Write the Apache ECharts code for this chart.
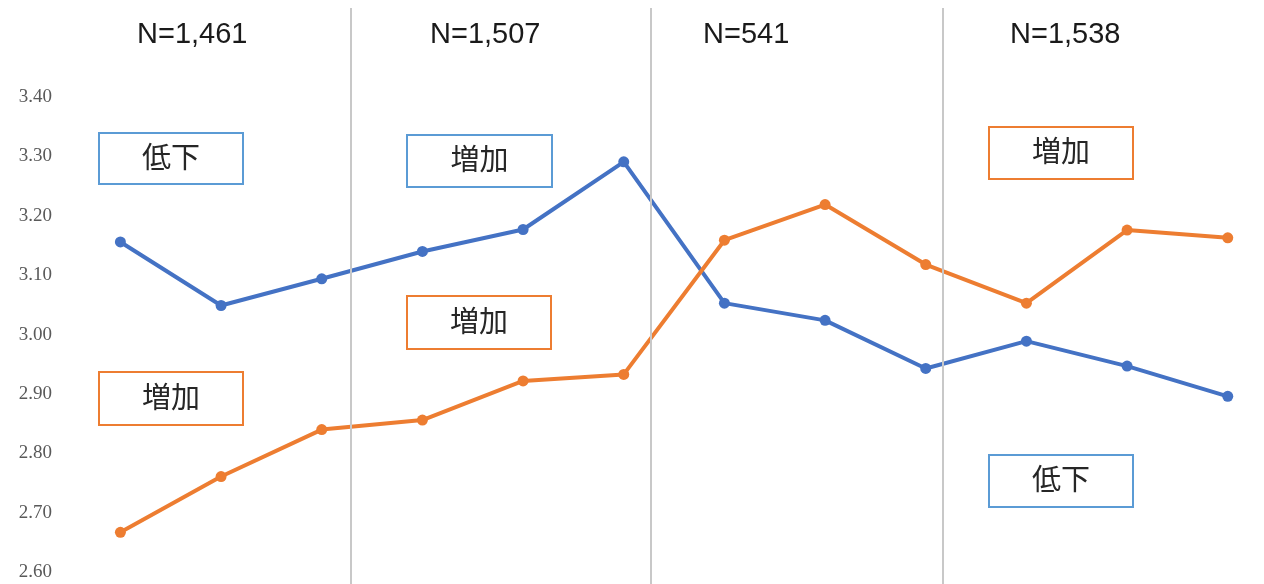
<!DOCTYPE html>
<html>
<head>
<meta charset="utf-8">
<script src="https://cdn.jsdelivr.net/npm/echarts@6/dist/echarts.min.js"></script>
<style>
  html, body { margin: 0; padding: 0; background: #fff; }
  #chart { width: 1264px; height: 584px; }
</style>
</head>
<body>
<div id="chart"></div>
<script>
// data
var points = [0, 1, 2, 3, 4, 5, 6, 7, 8, 9, 10, 11];
var blueValues = [3.156, 3.049, 3.094, 3.140, 3.177, 3.291, 3.053, 3.024, 2.943, 2.989, 2.947, 2.896];
var orangeValues = [2.667, 2.761, 2.840, 2.856, 2.922, 2.933, 3.159, 3.219, 3.118, 3.053, 3.176, 3.163];
var yTicks = [2.6, 2.7, 2.8, 2.9, 3.0, 3.1, 3.2, 3.3, 3.4];
var groupLabels = ['N=1,461', 'N=1,507', 'N=541', 'N=1,538'];
var separators = [2.29, 5.27, 8.17];

var BLUE = '#4472c4';
var ORANGE = '#ed7d31';
var BOX_BLUE = '#5b9bd5';

function pairs(vals) {
    var out = [];
    for (var i = 0; i < vals.length; i++) out.push([points[i], vals[i]]);
    return out;
}

// annotation box
function box(x, y, w, h, color, text) {
    return {
        type: 'group', left: x, top: y,
        children: [
            { type: 'rect', shape: { x: 0, y: 0, width: w, height: h },
              style: { fill: '#fff', stroke: color, lineWidth: 2 } },
            { type: 'text', x: w / 2, y: h / 2 - 2,
              style: { text: text, fill: '#262626', font: '29px "Noto Sans CJK JP"',
                       textAlign: 'center', textVerticalAlign: 'middle' } }
        ]
    };
}

var labelX = [197, 490, 763, 1070];
var graphics = [];
for (var i = 0; i < groupLabels.length; i++) {
    graphics.push({
        type: 'text', left: labelX[i] - 60, top: 20,
        style: { text: groupLabels[i], fill: '#1a1a1a', font: '29px "Liberation Sans"',
                 width: 120, textAlign: 'center' }
    });
}
graphics.push(box(98, 132, 144, 51, BOX_BLUE, '低下'));
graphics.push(box(406, 134, 145, 52, BOX_BLUE, '増加'));
graphics.push(box(406, 295, 144, 53, ORANGE, '増加'));
graphics.push(box(98, 371, 144, 53, ORANGE, '増加'));
graphics.push(box(988, 126, 144, 52, ORANGE, '増加'));
graphics.push(box(988, 454, 144, 52, BOX_BLUE, '低下'));

var chart = echarts.init(document.getElementById('chart'));
var option = {
    animation: false,
    grid: { left: 60, right: 0, top: 8, bottom: 0, containLabel: false },
    xAxis: {
        type: 'value', min: -0.6, max: 11.36,
        axisLine: { show: false }, axisTick: { show: false },
        axisLabel: { show: false }, splitLine: { show: false }
    },
    yAxis: {
        type: 'value', min: 2.58, max: 3.55,
        axisLine: { show: false }, axisTick: { show: false },
        splitLine: { show: false },
        axisLabel: {
            customValues: yTicks,
            formatter: function (v) { return v.toFixed(2); },
            color: '#595959', fontSize: 19, fontFamily: 'Liberation Serif', margin: 8
        }
    },
    series: [
        {
            type: 'line', data: [], z: 1, silent: true,
            markLine: {
                silent: true, symbol: 'none', label: { show: false },
                lineStyle: { color: '#c8c8c8', width: 2, type: 'solid' },
                data: separators.map(function (s) { return { xAxis: s }; })
            }
        },
        {
            name: 'blue', type: 'line', data: pairs(blueValues), z: 3,
            symbol: 'circle', symbolSize: 11,
            lineStyle: { color: BLUE, width: 4 },
            itemStyle: { color: BLUE }
        },
        {
            name: 'orange', type: 'line', data: pairs(orangeValues), z: 3,
            symbol: 'circle', symbolSize: 11,
            lineStyle: { color: ORANGE, width: 4 },
            itemStyle: { color: ORANGE }
        }
    ],
    graphic: graphics
};
chart.setOption(option);
</script>
</body>
</html>
